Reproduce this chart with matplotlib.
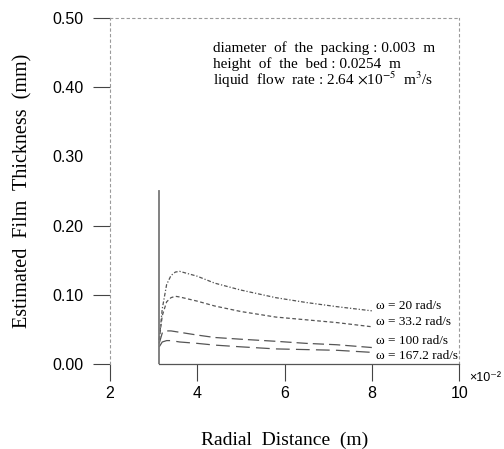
import matplotlib
matplotlib.use("Agg")
import matplotlib.pyplot as plt
import numpy as np

# radial distance (x10^-2 m) and film thickness (mm)
radius = [3.13, 3.2, 3.3, 3.4, 3.5, 3.6, 4.0, 4.4, 5.0, 5.8, 6.5, 7.2, 8.0]
film_w20 = [0.035, 0.080, 0.115, 0.128, 0.133, 0.134, 0.127, 0.117, 0.107, 0.096, 0.089, 0.083, 0.077]
film_w33 = [0.035, 0.070, 0.090, 0.096, 0.098, 0.097, 0.091, 0.084, 0.076, 0.068, 0.064, 0.060, 0.054]
film_w100 = [0.030, 0.045, 0.048, 0.048, 0.047, 0.046, 0.042, 0.0385, 0.036, 0.033, 0.030, 0.028, 0.024]
film_w167 = [0.025, 0.032, 0.034, 0.034, 0.033, 0.032, 0.030, 0.0275, 0.025, 0.022, 0.021, 0.020, 0.017]
curve_labels = ["ω = 20 rad/s", "ω = 33.2 rad/s", "ω = 100 rad/s", "ω = 167.2 rad/s"]

inner_radius = 3.12   # inner wall of the bed
wall_height = 0.25

xticks = [2, 4, 6, 8, 10]
yticks = [0.0, 0.1, 0.2, 0.3, 0.4, 0.5]

info_lines = ["diameter  of  the  packing : 0.003  m",
              "height  of  the  bed : 0.0254  m",
              r"liquid  flow  rate : 2.64 $\times$10$^{-5}$  m$^3$/s"]

serif = ["Liberation Serif", "DejaVu Serif"]
sans = ["Liberation Sans", "DejaVu Sans"]

fig = plt.figure(figsize=(5.04, 4.49), dpi=100)
ax = fig.add_axes([0.218, 0.189, 0.693, 0.771])

gray = "#555555"
styles = [(0, (3, 1.5, 1, 1.5)), (0, (3, 2)), (0, (9, 4)), (0, (11, 5))]
label_y = [0.084, 0.061, 0.033, 0.012]
for ys, ls, lab, ly in zip([film_w20, film_w33, film_w100, film_w167], styles, curve_labels, label_y):
    ax.plot(radius, ys, color=gray, lw=0.9, linestyle=ls)
    ax.text(radius[-1] + 0.1, ly, lab, fontsize=9.5, family=serif, va="center", ha="left")

ax.plot([inner_radius, inner_radius], [0, wall_height], color="#777777", lw=1.3)

ax.set_xlim(2, 10)
ax.set_ylim(0, 0.5)
ax.set_xticks(xticks)
ax.set_yticks(yticks)
ax.set_xticklabels([str(t) for t in xticks], family=sans, fontsize=11.5)
ax.set_yticklabels([f"{t:.2f}" for t in yticks], family=sans, fontsize=11.5)
ax.tick_params(direction="out", length=12, width=0.8, color="#444444")
ax.tick_params(axis="y", pad=7)
ax.tick_params(axis="x", pad=4)
ax.yaxis.get_major_ticks()[3].tick1line.set_visible(False)

# scanned frame: faint top/right/left, bottom only under the bed
for side in ["top", "right", "left"]:
    ax.spines[side].set_color("#9a9a9a")
    ax.spines[side].set_linestyle((0, (2, 3)))
    ax.spines[side].set_linewidth(0.8)
ax.spines["bottom"].set_bounds(inner_radius, 10)
ax.spines["bottom"].set_color("#555555")
ax.spines["bottom"].set_linewidth(0.9)

ax.set_xlabel("Radial  Distance  (m)", family=serif, fontsize=14, labelpad=22)
ax.set_ylabel("Estimated  Film  Thickness  (mm)", family=serif, fontsize=14.5, labelpad=14)

ax.text(1.03, -0.04, "×10⁻²", transform=ax.transAxes, family=sans, fontsize=9, va="center")

for i, line in enumerate(info_lines):
    ax.text(0.295, 0.913 - i * 0.046, line, transform=ax.transAxes, family=serif, fontsize=11,
            math_fontfamily="stix", va="center", ha="left")

plt.savefig("out.png", dpi=100)
